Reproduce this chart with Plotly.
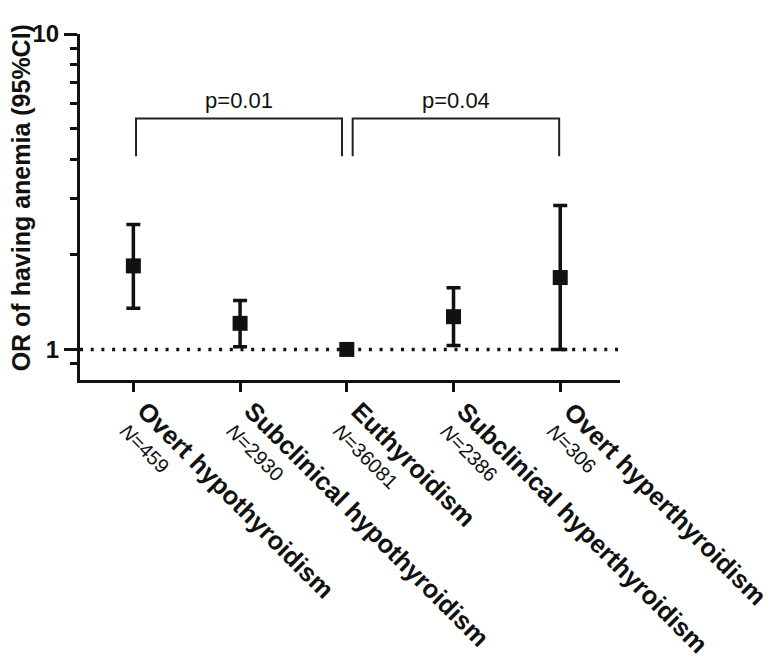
import math
import plotly.graph_objects as go

groups = ["Overt hypothyroidism", "Subclinical hypothyroidism", "Euthyroidism",
          "Subclinical hyperthyroidism", "Overt hyperthyroidism"]
n_counts = [459, 2930, 36081, 2386, 306]
odds_ratio = [1.84, 1.21, 1.00, 1.27, 1.69]
ci_low = [1.35, 1.02, 1.00, 1.03, 1.00]
ci_high = [2.49, 1.43, 1.00, 1.57, 2.86]

comparisons = [(0, 2), (2, 4)]
p_labels = ["p=0.01", "p=0.04"]
bracket_top = 5.4
bracket_foot = 4.1
p_label_y = 6.05

FONT = "Liberation Sans, Arial, Helvetica, sans-serif"
INK = "#111111"

x = list(range(len(groups)))

fig = go.Figure()

fig.add_hline(y=1, line=dict(color=INK, width=3.5, dash="3px,7.7px"), layer="below")

fig.add_trace(go.Scatter(
    x=x, y=odds_ratio,
    mode="markers",
    marker=dict(symbol="square", size=15, color=INK),
    error_y=dict(
        type="data", symmetric=False,
        array=[h - o for h, o in zip(ci_high, odds_ratio)],
        arrayminus=[o - l for o, l in zip(odds_ratio, ci_low)],
        thickness=3.5, width=7, color=INK,
    ),
    hoverinfo="skip",
))

# significance brackets
shared = {k for pair in comparisons for k in pair
          if sum(k in p for p in comparisons) > 1}
for (i, j), label in zip(comparisons, p_labels):
    x0 = i + (0.055 if i in shared else 0.025)
    x1 = j - (0.045 if j in shared else 0.01)
    fig.add_trace(go.Scatter(
        x=[x0, x0, x1, x1],
        y=[bracket_foot, bracket_top, bracket_top, bracket_foot],
        mode="lines", line=dict(color="#222222", width=2),
        hoverinfo="skip",
    ))
    fig.add_trace(go.Scatter(
        x=[(x0 + x1) / 2], y=[p_label_y], mode="text", text=[label],
        textposition="middle center",
        textfont=dict(family=FONT, size=22, color="#111111"),
        hoverinfo="skip",
    ))

# rotated category labels with sample sizes
for i, (name, n) in enumerate(zip(groups, n_counts)):
    fig.add_annotation(
        x=i, y=0, xref="x", yref="paper",
        text=f"<b>{name}</b>", textangle=45,
        xanchor="left", yanchor="top", xshift=-4, yshift=-14,
        showarrow=False, font=dict(family=FONT, size=25.5, color="#111111"),
    )
    fig.add_annotation(
        x=i, y=0, xref="x", yref="paper",
        text=f"<i>N</i>={n}", textangle=45,
        xanchor="left", yanchor="top", xshift=-20, yshift=-37,
        showarrow=False, font=dict(family=FONT, size=20, color="#111111"),
    )

fig.add_annotation(
    x=0, y=0.525, xref="paper", yref="paper",
    text="<b>OR of having anemia (95%CI)</b>", textangle=-90,
    xanchor="center", yanchor="middle", xshift=-59,
    showarrow=False, font=dict(family=FONT, size=25, color="#111111"),
)

# page body adds an 8px margin, so the figure is sized/shifted to compensate
fig.update_layout(
    width=765, height=659,
    margin=dict(l=72, r=153, t=17, b=287, pad=0),
    plot_bgcolor="white", paper_bgcolor="white",
    showlegend=False,
    font=dict(family=FONT, color="#111111"),
    xaxis=dict(
        range=[-0.5, 4.56], tickvals=x, showticklabels=False,
        ticks="outside", ticklen=9, tickwidth=3, tickcolor=INK,
        showline=True, linewidth=3, linecolor=INK,
        showgrid=False, zeroline=False,
    ),
    yaxis=dict(
        type="log", range=[math.log10(0.8), 1],
        tickvals=[1, 10], ticktext=["<b>1</b>", "<b>10</b>"],
        tickfont=dict(family=FONT, size=24, color="#111111"),
        ticks="outside", ticklen=13, tickwidth=3, tickcolor=INK,
        showline=True, linewidth=3, linecolor=INK,
        showgrid=False, zeroline=False,
        minor=dict(tickvals=[0.9, 2, 3, 4, 5, 6, 7, 8, 9], ticks="outside",
                   ticklen=7, tickwidth=3, tickcolor=INK, showgrid=False),
    ),
)

fig.write_html("out.html")
